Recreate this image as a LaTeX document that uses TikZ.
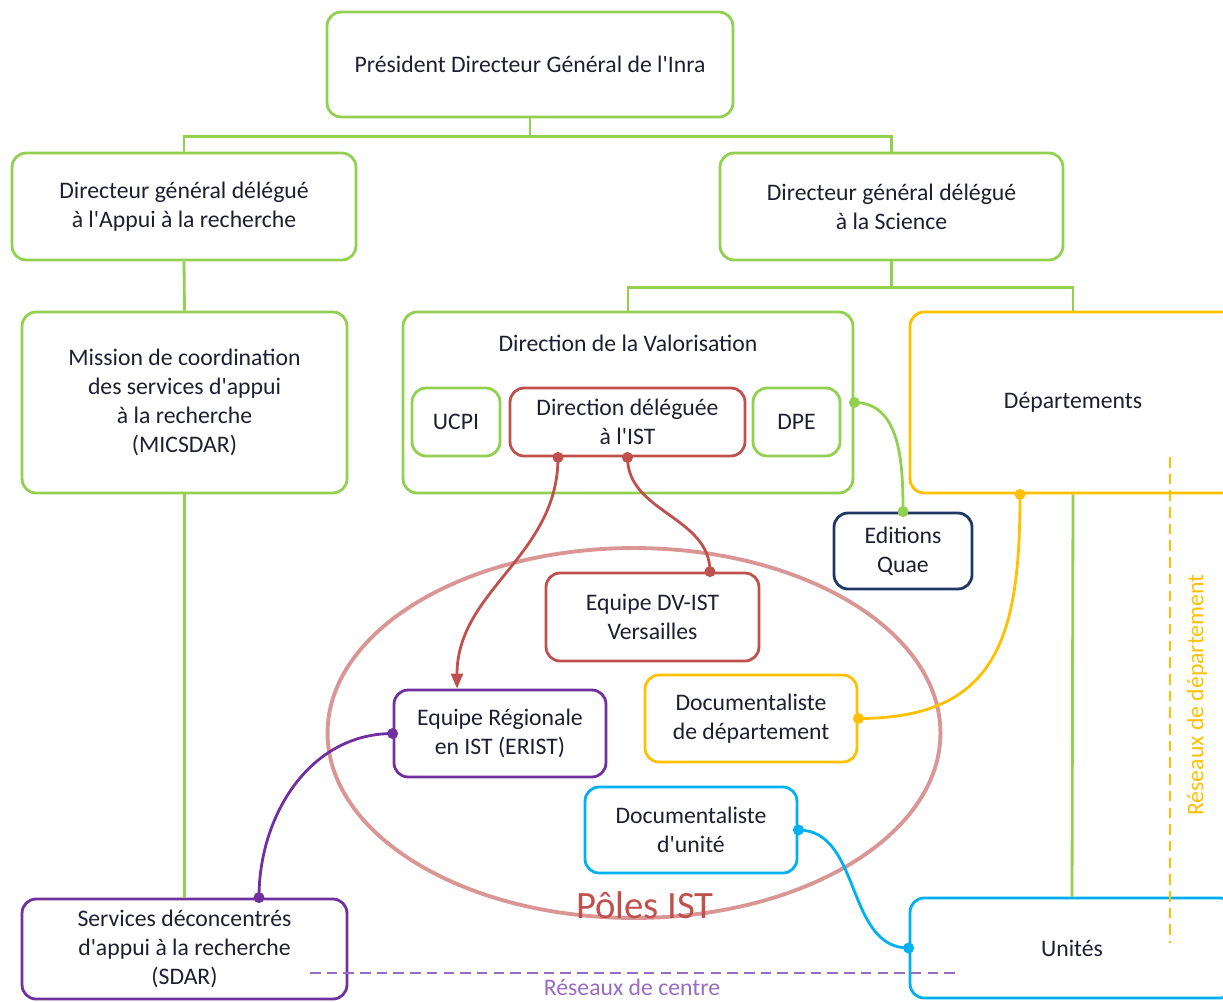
\documentclass[tikz,border=0pt]{standalone}
\usepackage{fontspec}
\setmainfont{Carlito}[Ligatures=TeXOff]
\usetikzlibrary{arrows.meta,shapes.geometric}
\definecolor{cgreen}{HTML}{92D050}
\definecolor{cred}{HTML}{C0504D}
\definecolor{cpurple}{HTML}{7030A0}
\definecolor{corange}{HTML}{FFC000}
\definecolor{ccyan}{HTML}{00B0F0}
\definecolor{cnavy}{HTML}{1F3864}
\definecolor{cpink}{HTML}{D99694}
\definecolor{clilac}{HTML}{9A6BC6}
\definecolor{txt}{HTML}{1E1E32}
\begin{document}
\begin{tikzpicture}[x=0.02cm, y=-0.02cm,
  font=\fontsize{13.5}{16.5}\selectfont,
  box/.style={rounded corners=8pt, line width=1.6pt, align=center, text=txt, inner sep=2pt},
  wire/.style={line width=1.6pt},
  dot/.style={circle, fill, inner sep=0pt, minimum size=0.22cm},
  net/.style={line width=0.8pt, dash pattern=on 6pt off 3.5pt}]
\useasboundingbox (0,0) rectangle (1223,1001);
\node[draw=cpink, line width=2.2pt, ellipse, minimum width=12.26cm, minimum height=7.4cm] (poles) at (634,733) {};
\node[text=cred, font=\fontsize{22}{26}\selectfont] (polestxt) at (645,905) {Pôles IST};
\node[box, draw=cgreen, minimum width=8.12cm, minimum height=2.1cm] (pdg) at (530,64.5) {Président Directeur Général de l'Inra};
\node[box, draw=cgreen, minimum width=6.88cm, minimum height=2.14cm] (dgar) at (184,206.5) {Directeur général délégué\\à l'Appui à la recherche};
\node[box, draw=cgreen, minimum width=6.86cm, minimum height=2.14cm] (dgs) at (891.5,206.5) {Directeur général délégué\\à la Science};
\node[box, draw=cgreen, minimum width=6.5cm, minimum height=3.62cm] (micsdar) at (184.5,402.5) {Mission de coordination\\des services d'appui\\à la recherche\\(MICSDAR)};
\node[box, draw=cgreen, minimum width=9cm, minimum height=3.62cm] (dv) at (628,402.5) {};
\node[text=txt] (dvtitle) at (628,343) {Direction de la Valorisation};
\node[box, draw=cgreen, minimum width=1.76cm, minimum height=1.36cm] (ucpi) at (456,422) {UCPI};
\node[box, draw=cred, minimum width=4.7cm, minimum height=1.36cm] (ddist) at (627.5,422) {Direction déléguée\\à l'IST};
\node[box, draw=cgreen, minimum width=1.74cm, minimum height=1.36cm] (dpe) at (796.5,422) {DPE};
\node[box, draw=corange, minimum width=6.52cm, minimum height=3.62cm] (dep) at (1073,402.5) {Départements};
\node[box, draw=cnavy, minimum width=2.76cm, minimum height=1.52cm] (quae) at (903,551) {Editions\\Quae};
\node[box, draw=cred, minimum width=4.26cm, minimum height=1.76cm] (dvist) at (652.5,617) {Equipe DV-IST\\Versailles};
\node[box, draw=cpurple, minimum width=4.24cm, minimum height=1.74cm] (erist) at (500,733.5) {Equipe Régionale\\en IST (ERIST)};
\node[box, draw=corange, minimum width=4.24cm, minimum height=1.74cm] (docdep) at (751,718.5) {Documentaliste\\de département};
\node[box, draw=ccyan, minimum width=4.24cm, minimum height=1.72cm] (docu) at (691,830) {Documentaliste\\d'unité};
\node[box, draw=cpurple, minimum width=6.5cm, minimum height=2cm] (sdar) at (184.5,949) {Services déconcentrés\\d'appui à la recherche\\(SDAR)};
\node[box, draw=ccyan, minimum width=6.48cm, minimum height=2cm] (unites) at (1072,948) {Unités};
\draw[cgreen, wire] (pdg.south) -- ++(0,18) -| (dgar.north);
\draw[cgreen, wire] (pdg.south) -- ++(0,18) -| (dgs.north);
\draw[cgreen, wire] (dgar.south) -- (micsdar.north);
\draw[cgreen, wire] (micsdar.south) -- (sdar.north);
\draw[cgreen, wire] (dgs.south) -- ++(0,26) -| (dv.north);
\draw[cgreen, wire] (dgs.south) -- ++(0,26) -| (dep.north);
\draw[cgreen, wire] (dep.south) -- (unites.north);
\draw[cred, wire, -{Triangle[length=0.3cm, width=0.24cm]}] ([xshift=-1.39cm]ddist.south) to[out=-90, in=90] node[dot, pos=0]{} ([xshift=-0.86cm]erist.north);
\draw[cred, wire] (ddist.south) to[out=-90, in=90] node[dot, pos=0]{} node[dot, pos=1]{} ([xshift=1.15cm]dvist.north);
\draw[cgreen, wire] (dv.east) to[out=0, in=90] node[dot, pos=0]{} node[dot, pos=1]{} (quae.north);
\draw[corange, wire] ([xshift=-1.06cm]dep.south) to[out=-90, in=0, looseness=1.3] node[dot, pos=0]{} node[dot, pos=1]{} (docdep.east);
\draw[cpurple, wire] (erist.west) to[out=180, in=90] node[dot, pos=0]{} node[dot, pos=1]{} ([xshift=1.49cm]sdar.north);
\draw[ccyan, wire] (docu.east) to[out=0, in=180] node[dot, pos=0]{} node[dot, pos=1]{} (unites.west);
\draw[clilac, net] (310,973) -- (960,973);
\node[text=clilac] (centrenet) at (632,987) {Réseaux de centre};
\draw[corange, net] (1170,457) -- (1170,943);
\node[text=corange, rotate=90] (deptnet) at (1197,695) {Réseaux de département};
\end{tikzpicture}
\end{document}
